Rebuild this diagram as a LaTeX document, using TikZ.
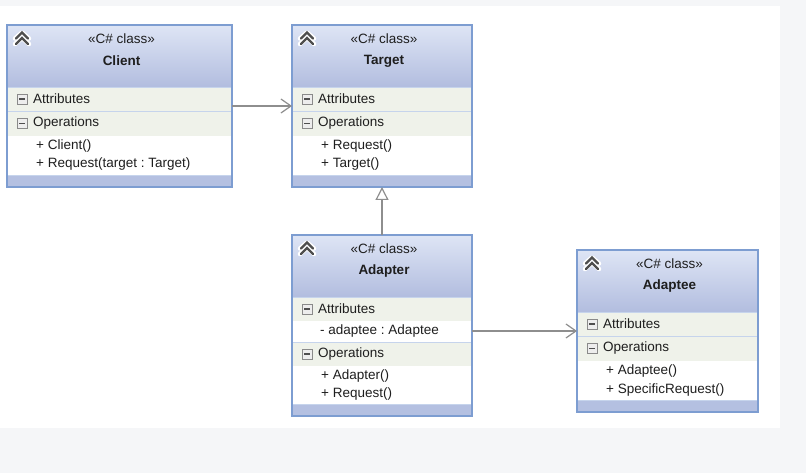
\documentclass[tikz,border=0pt]{standalone}
\usepackage{fontspec}
\setmainfont{Liberation Sans}
\usetikzlibrary{arrows.meta}
\frenchspacing
\definecolor{bggray}{HTML}{F5F6F8}
\definecolor{hdtop}{HTML}{DEE5F5}
\definecolor{hdbot}{HTML}{B2BDDF}
\definecolor{comprowc}{HTML}{EFF2EA}
\definecolor{sepc}{HTML}{C6D4EC}
\definecolor{barc}{HTML}{B4C0E1}
\definecolor{framec}{HTML}{7D9DD1}
\definecolor{linec}{HTML}{8E8E8E}
\definecolor{txt}{HTML}{1E1E1E}
\definecolor{chevc}{HTML}{4E4E4E}
\definecolor{mbfill}{HTML}{EDEDED}
\definecolor{mbdraw}{HTML}{8A8A8A}
\tikzset{
  x=1pt, y=-1pt,
  boxframe/.style={draw=framec, line width=1.5pt, inner sep=0pt, outer sep=0pt, rectangle, anchor=north west},
  stereo/.style={font=\fontsize{13.5}{15}\selectfont, text=txt, inner sep=0pt},
  cname/.style={font=\fontsize{13.5}{15}\selectfont\bfseries, text=txt, inner sep=0pt},
  rowtext/.style={font=\fontsize{13.5}{15}\selectfont, text=txt, inner sep=0pt, anchor=west},
  itemtext/.style={font=\fontsize{13.5}{15}\selectfont, text=txt, inner sep=0pt, anchor=west},
  assoc/.style={draw=linec, line width=1.2pt, -{Straight Barb[length=10pt,width=14pt]}},
  gen/.style={draw=linec, line width=1.2pt, -{Triangle[open, length=13pt, width=13pt, fill=white]}},
}
% chevron icon
\newcommand\chevicon[2]{%
  \foreach \o in {0,5.5}{%
    \draw[white, line width=4.5pt, line cap=round, line join=round]
      (#1-7,#2-1.5+\o) -- (#1,#2-7.5+\o) -- (#1+7,#2-1.5+\o);}
  \foreach \o in {0,5.5}{%
    \draw[chevc, line width=2.3pt, line cap=round, line join=miter]
      (#1-6,#2-1.5+\o) -- (#1,#2-7.5+\o) -- (#1+6,#2-1.5+\o);}
}
% minus box
\newcommand\minusbox[2]{%
  \draw[fill=mbfill, draw=mbdraw, line width=0.8pt] (#1-5,#2-5) rectangle (#1+5,#2+5);
  \draw[chevc, line width=1.4pt] (#1-3,#2) -- (#1+3,#2);
}
% header: id, L, T, R, name
\newcommand\umlhead[5]{%
  \shade[top color=hdtop, bottom color=hdbot] (#2,#3) rectangle (#4,#3+62);
  \node[stereo] (#1-st) at ({(#2+#4)/2+2},#3+14) {«C\# class»};
  \node[cname] (#1-nm) at ({(#2+#4)/2+2},#3+36) {#5};
  \chevicon{#2+15}{#3+15}
}
% compartment row: id, L, Y, R, height, label
\newcommand\umlrow[6]{%
  \fill[comprowc] (#2,#3) rectangle (#4,#3+#5);
  \draw[sepc, line width=0.8pt] (#2,#3) -- (#4,#3);
  \minusbox{#2+15}{#3+#5/2}
  \node[rowtext] (#1) at (#2+26,#3+#5/2) {#6};
}
% bottom bar: L, Y, R, B
\newcommand\umlbar[4]{%
  \fill[barc] (#1,#2) rectangle (#3,#4);
  \draw[sepc, line width=0.8pt] (#1,#2) -- (#3,#2);
}
\begin{document}
\begin{tikzpicture}
\useasboundingbox (0,0) rectangle (806,473);
\fill[bggray] (0,0) rectangle (806,473);
\fill[white] (0,6) rectangle (780,428);

% ---------- Client ----------
\fill[white] (7,25) rectangle (232,187);
\umlhead{cl}{7}{25}{232}{Client}
\umlrow{cl-attr}{7}{87}{232}{24}{Attributes}
\umlrow{cl-ops}{7}{111}{232}{25}{Operations}
\node[itemtext] (cl-o1) at (36,146) {+ Client()};
\node[itemtext] (cl-o2) at (36,164) {+ Request(target : Target)};
\umlbar{7}{175}{232}{187}
\node[boxframe, minimum width=225pt, minimum height=162pt] (client) at (7,25) {};

% ---------- Target ----------
\fill[white] (292,25) rectangle (472,187);
\umlhead{tg}{292}{25}{472}{Target}
\umlrow{tg-attr}{292}{87}{472}{24}{Attributes}
\umlrow{tg-ops}{292}{111}{472}{25}{Operations}
\node[itemtext] (tg-o1) at (321,146) {+ Request()};
\node[itemtext] (tg-o2) at (321,164) {+ Target()};
\umlbar{292}{175}{472}{187}
\node[boxframe, minimum width=180pt, minimum height=162pt] (target) at (292,25) {};

% ---------- Adapter ----------
\fill[white] (292,235) rectangle (472,416);
\umlhead{ad}{292}{235}{472}{Adapter}
\umlrow{ad-attr}{292}{297}{472}{24}{Attributes}
\node[itemtext] (ad-a1) at (320,331) {- adaptee : Adaptee};
\umlrow{ad-ops}{292}{342}{472}{24}{Operations}
\node[itemtext] (ad-o1) at (321,376) {+ Adapter()};
\node[itemtext] (ad-o2) at (321,394) {+ Request()};
\umlbar{292}{404}{472}{416}
\node[boxframe, minimum width=180pt, minimum height=181pt] (adapter) at (292,235) {};

% ---------- Adaptee ----------
\fill[white] (577,250) rectangle (758,412);
\umlhead{ae}{577}{250}{758}{Adaptee}
\umlrow{ae-attr}{577}{312}{758}{24}{Attributes}
\umlrow{ae-ops}{577}{336}{758}{25}{Operations}
\node[itemtext] (ae-o1) at (606,371) {+ Adaptee()};
\node[itemtext] (ae-o2) at (606,390) {+ SpecificRequest()};
\umlbar{577}{400}{758}{412}
\node[boxframe, minimum width=181pt, minimum height=162pt] (adaptee) at (577,250) {};

% ---------- Connectors ----------
\draw[assoc] (client.east) -- (target.west);
\draw[gen] (adapter.north) -- (target.south);
\draw[assoc] (adapter.east |- adaptee.west) -- (adaptee.west);
\end{tikzpicture}
\end{document}
